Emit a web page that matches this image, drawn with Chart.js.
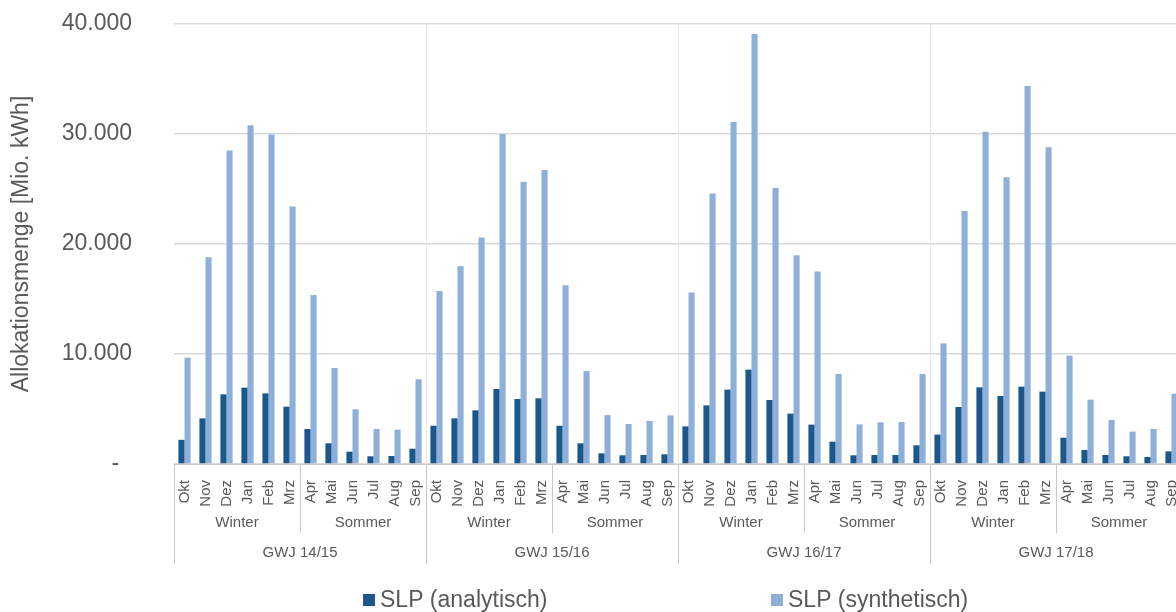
<!DOCTYPE html>
<html>
<head>
<meta charset="utf-8">
<script src="https://cdn.jsdelivr.net/npm/chart.js@4"></script>
<style>
  html, body { margin: 0; padding: 0; background: #fff; overflow: hidden; }
  #wrap { width: 1184px; height: 612px; }
</style>
</head>
<body>
<div id="wrap"><canvas id="myChart" width="1184" height="612"></canvas></div>
<script>
// data
const months = ['Okt', 'Nov', 'Dez', 'Jan', 'Feb', 'Mrz', 'Apr', 'Mai', 'Jun', 'Jul', 'Aug', 'Sep'];
const seasons = ['Winter', 'Sommer'];
const years = ['GWJ 14/15', 'GWJ 15/16', 'GWJ 16/17', 'GWJ 17/18'];
const yTicks = [0, 10000, 20000, 30000, 40000];

const analytisch = [
  2200, 4150, 6330, 6940, 6420, 5210, 3180, 1880, 1120, 700, 730, 1390,
  3480, 4150, 4880, 6820, 5910, 5970, 3480, 1880, 970, 790, 820, 880,
  3420, 5330, 6760, 8580, 5820, 4580, 3580, 2030, 790, 820, 820, 1700,
  2670, 5180, 6970, 6180, 7030, 6580, 2390, 1270, 820, 700, 640, 1150
];
const synthetisch = [
  9670, 18800, 28500, 30800, 29950, 23400, 15360, 8730, 4970, 3180, 3120, 7700,
  15730, 17970, 20580, 30000, 25670, 26730, 16240, 8450, 4450, 3640, 3910, 4420,
  15600, 24600, 31100, 39100, 25100, 18970, 17500, 8180, 3600, 3790, 3820, 8180,
  10970, 23000, 30200, 26060, 34360, 28800, 9850, 5850, 4000, 2940, 3180, 6390
];

const labels = [];
years.forEach(() => months.forEach(m => labels.push(m)));

const FONT = "'Liberation Sans', Arial, sans-serif";
const TXT = '#595959';
const DARK = '#1b578b';
const LIGHT = '#8cb0d9';

// group labels, separators and legend below the axis
const groupAxis = {
  id: 'groupAxis',
  beforeDatasetsDraw(chart) {
    const { ctx, chartArea, scales: { x } } = chart;
    const w = (x.right - x.left) / labels.length;
    ctx.save();
    ctx.strokeStyle = '#e8e8e8';
    ctx.lineWidth = 1;
    for (let i = 12; i < labels.length; i += 12) {
      const px = Math.round(x.left + i * w) + 0.5;
      ctx.beginPath();
      ctx.moveTo(px, chartArea.top);
      ctx.lineTo(px, chartArea.bottom);
      ctx.stroke();
    }
    ctx.restore();
  },
  afterDraw(chart) {
    const { ctx, chartArea, scales: { x } } = chart;
    const w = (x.right - x.left) / labels.length;
    const bottom = chartArea.bottom;
    ctx.save();
    ctx.strokeStyle = '#c8c8c8';
    ctx.lineWidth = 1;
    for (let i = 0; i <= labels.length; i += 6) {
      const px = Math.round(x.left + i * w) + 0.5;
      ctx.beginPath();
      ctx.moveTo(px, bottom);
      ctx.lineTo(px, i % 12 === 0 ? 564 : 533);
      ctx.stroke();
    }
    ctx.fillStyle = TXT;
    ctx.font = '15px ' + FONT;
    ctx.textAlign = 'center';
    ctx.textBaseline = 'middle';
    years.forEach((yr, yi) => {
      seasons.forEach((s, si) => {
        const c = x.left + (yi * 12 + si * 6 + 3) * w;
        ctx.fillText(s, c, 523);
      });
      ctx.fillText(yr, x.left + (yi * 12 + 6) * w, 553);
    });

    // legend
    ctx.font = '23px ' + FONT;
    ctx.textAlign = 'left';
    const items = [['SLP (analytisch)', DARK, 363], ['SLP (synthetisch)', LIGHT, 771]];
    items.forEach(([t, col, lx]) => {
      ctx.fillStyle = col;
      ctx.fillRect(lx, 594, 12, 12);
      ctx.fillStyle = TXT;
      ctx.fillText(t, lx + 17, 601);
    });
    ctx.restore();
  }
};

const ctx = document.getElementById('myChart');
new Chart(ctx, {
  type: 'bar',
  data: {
    labels: labels,
    datasets: [
      { label: 'SLP (analytisch)', data: analytisch, backgroundColor: DARK },
      { label: 'SLP (synthetisch)', data: synthetisch, backgroundColor: LIGHT }
    ]
  },
  options: {
    responsive: false,
    animation: false,
    devicePixelRatio: 1,
    categoryPercentage: 0.58,
    barPercentage: 1.0,
    layout: { padding: { top: 24, right: 2, bottom: 0, left: 0 } },
    plugins: { legend: { display: false }, tooltip: { enabled: false } },
    scales: {
      x: {
        grid: { display: false },
        border: { color: '#c8c8c8', width: 1 },
        ticks: {
          autoSkip: false, minRotation: 90, maxRotation: 90, padding: 8,
          color: TXT, font: { family: FONT, size: 15 }
        },
        afterFit: s => { s.height = 148; s.paddingLeft = 0; s.paddingRight = 0; }
      },
      y: {
        min: 0, max: 40000,
        afterBuildTicks: s => { s.ticks = yTicks.map(v => ({ value: v })); },
        grid: { color: '#d9d9d9', lineWidth: 1.5, drawTicks: false },
        border: { display: false },
        ticks: {
          padding: 42, color: TXT, font: { family: FONT, size: 23 },
          callback: v => v === 0 ? '-  ' : (v / 1000) + '.000'
        },
        title: {
          display: true, text: 'Allokationsmenge [Mio. kWh]', color: TXT,
          font: { family: FONT, size: 23 }, padding: { top: 8, bottom: 0 }
        },
        afterFit: s => { s.width = 174; s.paddingTop = 0; s.paddingBottom = 0; }
      }
    }
  },
  plugins: [groupAxis]
});
</script>
</body>
</html>
